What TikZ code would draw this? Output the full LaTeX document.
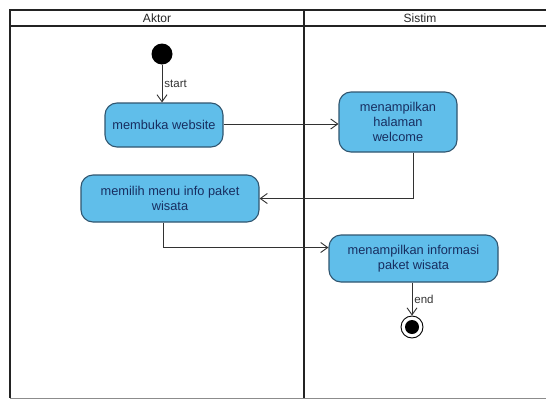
\documentclass[tikz,border=0pt]{standalone}
\usepackage{fontspec}
\setmainfont{Liberation Sans}
\usetikzlibrary{arrows.meta,calc}
\definecolor{actfill}{RGB}{96,190,234}
\definecolor{actdraw}{RGB}{48,86,112}
\definecolor{acttext}{RGB}{24,46,96}
\definecolor{lanegray}{RGB}{35,35,35}
\definecolor{flowgray}{RGB}{50,50,50}
\tikzset{
  actbox/.style={draw=actdraw, line width=1.1pt, fill=actfill, rounded corners=12pt,
    align=center, text=acttext, font=\fontsize{12.8}{15}\selectfont, inner sep=1pt},
  lane/.style={draw=lanegray, line width=1.6pt},
  flow/.style={draw=flowgray, line width=0.9pt, -{Straight Barb[length=7pt,width=10pt]}},
  flowlabel/.style={font=\fontsize{11.5}{13}\selectfont, text=black!80, inner sep=2pt},
  headtext/.style={font=\fontsize{12}{14}\selectfont, text=black!85}
}
\begin{document}
\begin{tikzpicture}[x=1pt,y=-1pt]
  \useasboundingbox (0,0) rectangle (546,399);
  \fill[white] (0,0) rectangle (546,399);

  % swimlane frame
  \draw[lane] (546,10) -- (10,10) -- (10,398);
  \draw[lane] (10,26) -- (546,26);
  \draw[lane] (304,10) -- (304,398);
  \draw[draw=black!45, line width=1pt] (10,398) -- (546,398);
  \node[headtext] (hAktor) at (157,18) {Aktor};
  \node[headtext] (hSistim) at (420,18) {Sistim};

  % initial and final states
  \node[circle, fill=black, minimum size=21pt, inner sep=0pt] (init) at (162,54) {};
  \node[circle, draw=black, line width=0.9pt, minimum size=22pt, inner sep=0pt] (final) at (412,327) {};
  \node[circle, fill=black, minimum size=14pt, inner sep=0pt] (finalin) at (final) {};

  % activities
  \node[actbox, minimum width=118pt, minimum height=44pt] (membuka) at (164,125) {membuka website};
  \node[actbox, minimum width=118pt, minimum height=60pt] (welcome) at (398,122) {menampilkan\\halaman\\welcome};
  \node[actbox, minimum width=178pt, minimum height=47pt] (memilih) at (170,198.5) {memilih menu info paket\\wisata};
  \node[actbox, minimum width=169pt, minimum height=47pt] (info) at (413.5,258.5) {menampilkan informasi\\paket wisata};

  % control flows
  \draw[flow] (init) -- (init |- membuka.north) node[midway, right, flowlabel] {start};
  \draw[flow] ([yshift=1pt]membuka.east) -- ([yshift=1pt]membuka.east -| welcome.west);
  \draw[flow] ([xshift=15pt]welcome.south) |- (memilih.east);
  \draw[flow] ([xshift=-7pt]memilih.south) |- ([yshift=11pt]info.west);
  \draw[flow] (info.south -| final) -- (final.north) node[midway, right, flowlabel] {end};
\end{tikzpicture}
\end{document}
